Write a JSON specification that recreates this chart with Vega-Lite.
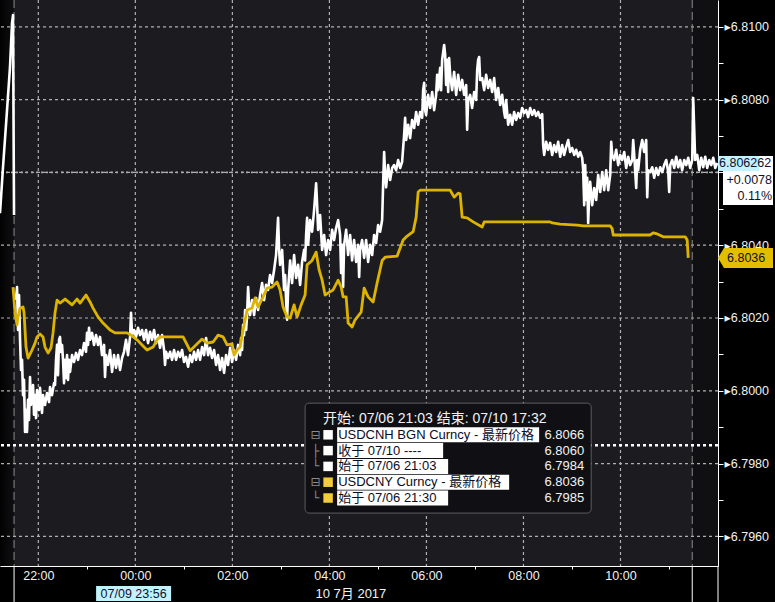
{
"$schema":"https://vega.github.io/schema/vega-lite/v6.json",
"width":718,"height":566,
"autosize":{"type":"none"},
"padding":{"left":0,"top":0,"right":57,"bottom":36},
"background":"#000000",
"config":{
 "view":{"fill":"#1c1c20","stroke":null},
 "font":"Liberation Sans, DejaVu Sans, Noto Sans CJK SC",
 "axis":{"labelFont":"Liberation Sans, DejaVu Sans, Noto Sans CJK SC","titleFont":"Liberation Sans, DejaVu Sans, Noto Sans CJK SC","labelColor":"#f2f2f2","labelFontSize":12.5,"domainColor":"#ffffff","domainWidth":1,"tickColor":"#ffffff","tickWidth":1,"grid":false}
},
"datasets":{
 "gridX":[{"t":22},{"t":24},{"t":26},{"t":28},{"t":30},{"t":32},{"t":34}],
 "gridY":[{"v":6.796},{"v":6.798},{"v":6.800},{"v":6.802},{"v":6.804},{"v":6.806},{"v":6.808},{"v":6.810}],
 "cnhA":[{"t":21.210,"v":6.80488},{"t":21.272,"v":6.80614},{"t":21.355,"v":6.80771},{"t":21.416,"v":6.80889},{"t":21.458,"v":6.81010},{"t":21.478,"v":6.81032},{"t":21.489,"v":6.80744},{"t":21.499,"v":6.80483}],
 "cnhB":[
{"t":21.540,"v":6.80249},{"t":21.561,"v":6.80285},{"t":21.582,"v":6.80167},{"t":21.602,"v":6.80263},{"t":21.623,"v":6.80140},{"t":21.643,"v":6.80057},{"t":21.664,"v":6.80085},{"t":21.685,"v":6.79988},{"t":21.705,"v":6.80030},{"t":21.726,"v":6.79887},{"t":21.746,"v":6.79947},{"t":21.767,"v":6.79887},{"t":21.788,"v":6.79975},{"t":21.808,"v":6.79920},{"t":21.829,"v":6.80038},{"t":21.849,"v":6.79961},{"t":21.891,"v":6.80016},{"t":21.911,"v":6.79934},{"t":21.932,"v":6.79988},{"t":21.953,"v":6.79925},{"t":21.973,"v":6.80002},{"t":22.014,"v":6.79947},{"t":22.035,"v":6.80008},{"t":22.076,"v":6.79939},{"t":22.097,"v":6.79988},{"t":22.138,"v":6.79961},{"t":22.179,"v":6.79994},{"t":22.221,"v":6.79969},{"t":22.241,"v":6.80010},{"t":22.282,"v":6.79988},{"t":22.324,"v":6.80021},{"t":22.344,"v":6.80016},{"t":22.365,"v":6.80085},{"t":22.386,"v":6.80126},{"t":22.406,"v":6.80043},{"t":22.427,"v":6.80140},{"t":22.447,"v":6.80148},{"t":22.468,"v":6.80107},{"t":22.489,"v":6.80126},{"t":22.509,"v":6.80085},{"t":22.530,"v":6.80021},{"t":22.551,"v":6.80085},{"t":22.571,"v":6.80035},{"t":22.592,"v":6.80098},{"t":22.612,"v":6.80030},{"t":22.633,"v":6.80085},{"t":22.654,"v":6.80052},{"t":22.695,"v":6.80098},{"t":22.736,"v":6.80079},{"t":22.777,"v":6.80104},{"t":22.819,"v":6.80085},{"t":22.860,"v":6.80112},{"t":22.901,"v":6.80098},{"t":22.942,"v":6.80131},{"t":22.983,"v":6.80107},{"t":23.004,"v":6.80159},{"t":23.025,"v":6.80126},{"t":23.045,"v":6.80173},{"t":23.066,"v":6.80140},{"t":23.107,"v":6.80159},{"t":23.148,"v":6.80126},{"t":23.190,"v":6.80153},{"t":23.231,"v":6.80126},{"t":23.272,"v":6.80148},{"t":23.313,"v":6.80098},{"t":23.355,"v":6.80126},{"t":23.375,"v":6.80038},{"t":23.396,"v":6.80098},{"t":23.437,"v":6.80071},{"t":23.478,"v":6.80112},{"t":23.520,"v":6.80052},{"t":23.561,"v":6.80098},{"t":23.602,"v":6.80063},{"t":23.643,"v":6.80098},{"t":23.684,"v":6.80057},{"t":23.726,"v":6.80090},{"t":23.767,"v":6.80107},{"t":23.808,"v":6.80140},{"t":23.849,"v":6.80098},{"t":23.891,"v":6.80148},{"t":23.911,"v":6.80214},{"t":23.932,"v":6.80153},{"t":23.973,"v":6.80167},{"t":24.014,"v":6.80148},{"t":24.056,"v":6.80173},{"t":24.097,"v":6.80153},{"t":24.138,"v":6.80167},{"t":24.179,"v":6.80140},{"t":24.221,"v":6.80167},{"t":24.262,"v":6.80131},{"t":24.303,"v":6.80162},{"t":24.344,"v":6.80140},{"t":24.386,"v":6.80167},{"t":24.427,"v":6.80131},{"t":24.468,"v":6.80153},{"t":24.509,"v":6.80118},{"t":24.551,"v":6.80153},{"t":24.592,"v":6.80112},{"t":24.612,"v":6.80071},{"t":24.633,"v":6.80107},{"t":24.674,"v":6.80090},{"t":24.716,"v":6.80107},{"t":24.757,"v":6.80085},{"t":24.798,"v":6.80112},{"t":24.839,"v":6.80085},{"t":24.880,"v":6.80107},{"t":24.922,"v":6.80093},{"t":24.963,"v":6.80112},{"t":25.004,"v":6.80079},{"t":25.045,"v":6.80093},{"t":25.087,"v":6.80066},{"t":25.128,"v":6.80098},{"t":25.169,"v":6.80079},{"t":25.210,"v":6.80107},{"t":25.252,"v":6.80085},{"t":25.293,"v":6.80112},{"t":25.334,"v":6.80085},{"t":25.375,"v":6.80120},{"t":25.417,"v":6.80098},{"t":25.458,"v":6.80145},{"t":25.499,"v":6.80098},{"t":25.540,"v":6.80118},{"t":25.582,"v":6.80090},{"t":25.623,"v":6.80112},{"t":25.664,"v":6.80071},{"t":25.705,"v":6.80098},{"t":25.747,"v":6.80057},{"t":25.788,"v":6.80090},{"t":25.829,"v":6.80049},{"t":25.870,"v":6.80098},{"t":25.911,"v":6.80071},{"t":25.953,"v":6.80118},{"t":25.994,"v":6.80079},{"t":26.035,"v":6.80112},{"t":26.076,"v":6.80085},{"t":26.118,"v":6.80126},{"t":26.159,"v":6.80098},{"t":26.179,"v":6.80145},{"t":26.200,"v":6.80112},{"t":26.221,"v":6.80181},{"t":26.241,"v":6.80153},{"t":26.262,"v":6.80222},{"t":26.283,"v":6.80167},{"t":26.303,"v":6.80208},{"t":26.324,"v":6.80285},{"t":26.344,"v":6.80236},{"t":26.365,"v":6.80208},{"t":26.406,"v":6.80249},{"t":26.448,"v":6.80208},{"t":26.489,"v":6.80255},{"t":26.530,"v":6.80222},{"t":26.571,"v":6.80263},{"t":26.613,"v":6.80296},{"t":26.654,"v":6.80249},{"t":26.695,"v":6.80291},{"t":26.736,"v":6.80277},{"t":26.777,"v":6.80318},{"t":26.819,"v":6.80296},{"t":26.860,"v":6.80332},{"t":26.901,"v":6.80373},{"t":26.942,"v":6.80475},{"t":26.963,"v":6.80387},{"t":26.984,"v":6.80346},{"t":27.025,"v":6.80387},{"t":27.066,"v":6.80277},{"t":27.087,"v":6.80318},{"t":27.107,"v":6.80249},{"t":27.128,"v":6.80195},{"t":27.149,"v":6.80277},{"t":27.190,"v":6.80358},{"t":27.231,"v":6.80296},{"t":27.272,"v":6.80373},{"t":27.314,"v":6.80310},{"t":27.355,"v":6.80346},{"t":27.396,"v":6.80291},{"t":27.437,"v":6.80354},{"t":27.478,"v":6.80387},{"t":27.499,"v":6.80358},{"t":27.520,"v":6.80428},{"t":27.540,"v":6.80475},{"t":27.561,"v":6.80401},{"t":27.602,"v":6.80469},{"t":27.643,"v":6.80437},{"t":27.685,"v":6.80497},{"t":27.726,"v":6.80570},{"t":27.747,"v":6.80510},{"t":27.767,"v":6.80442},{"t":27.808,"v":6.80483},{"t":27.850,"v":6.80387},{"t":27.891,"v":6.80428},{"t":27.932,"v":6.80373},{"t":27.973,"v":6.80414},{"t":28.015,"v":6.80387},{"t":28.056,"v":6.80442},{"t":28.097,"v":6.80414},{"t":28.138,"v":6.80447},{"t":28.180,"v":6.80469},{"t":28.221,"v":6.80428},{"t":28.241,"v":6.80324},{"t":28.262,"v":6.80401},{"t":28.283,"v":6.80285},{"t":28.303,"v":6.80401},{"t":28.345,"v":6.80442},{"t":28.386,"v":6.80373},{"t":28.427,"v":6.80428},{"t":28.468,"v":6.80358},{"t":28.509,"v":6.80414},{"t":28.551,"v":6.80354},{"t":28.592,"v":6.80401},{"t":28.613,"v":6.80313},{"t":28.633,"v":6.80387},{"t":28.674,"v":6.80414},{"t":28.716,"v":6.80365},{"t":28.757,"v":6.80414},{"t":28.798,"v":6.80354},{"t":28.839,"v":6.80401},{"t":28.881,"v":6.80373},{"t":28.922,"v":6.80428},{"t":28.963,"v":6.80406},{"t":29.004,"v":6.80455},{"t":29.045,"v":6.80437},{"t":29.087,"v":6.80469},{"t":29.107,"v":6.80565},{"t":29.128,"v":6.80656},{"t":29.149,"v":6.80593},{"t":29.169,"v":6.80559},{"t":29.211,"v":6.80620},{"t":29.252,"v":6.80579},{"t":29.293,"v":6.80612},{"t":29.334,"v":6.80620},{"t":29.375,"v":6.80606},{"t":29.417,"v":6.80634},{"t":29.458,"v":6.80612},{"t":29.499,"v":6.80629},{"t":29.540,"v":6.80703},{"t":29.561,"v":6.80750},{"t":29.582,"v":6.80689},{"t":29.623,"v":6.80731},{"t":29.664,"v":6.80694},{"t":29.705,"v":6.80744},{"t":29.747,"v":6.80722},{"t":29.788,"v":6.80766},{"t":29.829,"v":6.80731},{"t":29.870,"v":6.80766},{"t":29.912,"v":6.80750},{"t":29.932,"v":6.80826},{"t":29.953,"v":6.80846},{"t":29.973,"v":6.80771},{"t":29.994,"v":6.80758},{"t":30.035,"v":6.80813},{"t":30.077,"v":6.80777},{"t":30.118,"v":6.80821},{"t":30.159,"v":6.80771},{"t":30.200,"v":6.80813},{"t":30.221,"v":6.80868},{"t":30.241,"v":6.80826},{"t":30.283,"v":6.80887},{"t":30.303,"v":6.80826},{"t":30.324,"v":6.80909},{"t":30.365,"v":6.80950},{"t":30.386,"v":6.80923},{"t":30.406,"v":6.80840},{"t":30.427,"v":6.80909},{"t":30.448,"v":6.80821},{"t":30.468,"v":6.80914},{"t":30.489,"v":6.80868},{"t":30.530,"v":6.80826},{"t":30.571,"v":6.80876},{"t":30.613,"v":6.80813},{"t":30.654,"v":6.80868},{"t":30.695,"v":6.80826},{"t":30.736,"v":6.80854},{"t":30.777,"v":6.80813},{"t":30.819,"v":6.80840},{"t":30.839,"v":6.80717},{"t":30.860,"v":6.80799},{"t":30.901,"v":6.80813},{"t":30.942,"v":6.80777},{"t":30.984,"v":6.80821},{"t":31.025,"v":6.80799},{"t":31.046,"v":6.80881},{"t":31.066,"v":6.80909},{"t":31.087,"v":6.80917},{"t":31.107,"v":6.80854},{"t":31.149,"v":6.80859},{"t":31.190,"v":6.80826},{"t":31.231,"v":6.80868},{"t":31.272,"v":6.80832},{"t":31.314,"v":6.80854},{"t":31.355,"v":6.80821},{"t":31.396,"v":6.80859},{"t":31.437,"v":6.80799},{"t":31.479,"v":6.80832},{"t":31.520,"v":6.80785},{"t":31.561,"v":6.80813},{"t":31.602,"v":6.80766},{"t":31.623,"v":6.80750},{"t":31.643,"v":6.80799},{"t":31.685,"v":6.80731},{"t":31.726,"v":6.80758},{"t":31.767,"v":6.80731},{"t":31.808,"v":6.80766},{"t":31.850,"v":6.80744},{"t":31.891,"v":6.80763},{"t":31.932,"v":6.80750},{"t":31.973,"v":6.80777},{"t":32.015,"v":6.80763},{"t":32.056,"v":6.80771},{"t":32.097,"v":6.80752},{"t":32.138,"v":6.80777},{"t":32.180,"v":6.80758},{"t":32.221,"v":6.80771},{"t":32.262,"v":6.80755},{"t":32.303,"v":6.80766},{"t":32.345,"v":6.80750},{"t":32.386,"v":6.80760},{"t":32.406,"v":6.80675},{"t":32.427,"v":6.80648},{"t":32.468,"v":6.80684},{"t":32.509,"v":6.80662},{"t":32.551,"v":6.80681},{"t":32.592,"v":6.80648},{"t":32.633,"v":6.80675},{"t":32.674,"v":6.80656},{"t":32.716,"v":6.80684},{"t":32.757,"v":6.80643},{"t":32.798,"v":6.80675},{"t":32.839,"v":6.80648},{"t":32.881,"v":6.80670},{"t":32.922,"v":6.80689},{"t":32.963,"v":6.80656},{"t":33.004,"v":6.80667},{"t":33.046,"v":6.80648},{"t":33.087,"v":6.80662},{"t":33.128,"v":6.80643},{"t":33.169,"v":6.80656},{"t":33.211,"v":6.80640},{"t":33.231,"v":6.80606},{"t":33.252,"v":6.80510},{"t":33.272,"v":6.80620},{"t":33.293,"v":6.80524},{"t":33.314,"v":6.80585},{"t":33.334,"v":6.80461},{"t":33.355,"v":6.80538},{"t":33.375,"v":6.80574},{"t":33.417,"v":6.80510},{"t":33.458,"v":6.80557},{"t":33.499,"v":6.80524},{"t":33.540,"v":6.80593},{"t":33.582,"v":6.80546},{"t":33.623,"v":6.80601},{"t":33.664,"v":6.80551},{"t":33.705,"v":6.80606},{"t":33.747,"v":6.80551},{"t":33.788,"v":6.80593},{"t":33.809,"v":6.80684},{"t":33.829,"v":6.80648},{"t":33.870,"v":6.80634},{"t":33.912,"v":6.80662},{"t":33.953,"v":6.80620},{"t":33.994,"v":6.80648},{"t":34.035,"v":6.80634},{"t":34.077,"v":6.80656},{"t":34.118,"v":6.80612},{"t":34.159,"v":6.80643},{"t":34.200,"v":6.80620},{"t":34.242,"v":6.80634},{"t":34.262,"v":6.80689},{"t":34.283,"v":6.80648},{"t":34.324,"v":6.80557},{"t":34.345,"v":6.80634},{"t":34.365,"v":6.80606},{"t":34.406,"v":6.80662},{"t":34.448,"v":6.80689},{"t":34.489,"v":6.80656},{"t":34.530,"v":6.80689},{"t":34.551,"v":6.80532},{"t":34.571,"v":6.80606},{"t":34.613,"v":6.80601},{"t":34.654,"v":6.80614},{"t":34.695,"v":6.80585},{"t":34.736,"v":6.80612},{"t":34.778,"v":6.80593},{"t":34.819,"v":6.80614},{"t":34.860,"v":6.80601},{"t":34.901,"v":6.80620},{"t":34.943,"v":6.80634},{"t":34.984,"v":6.80601},{"t":35.004,"v":6.80546},{"t":35.025,"v":6.80620},{"t":35.066,"v":6.80634},{"t":35.108,"v":6.80612},{"t":35.149,"v":6.80643},{"t":35.190,"v":6.80614},{"t":35.231,"v":6.80634},{"t":35.272,"v":6.80606},{"t":35.314,"v":6.80634},{"t":35.355,"v":6.80620},{"t":35.396,"v":6.80640},{"t":35.437,"v":6.80612},{"t":35.479,"v":6.80634},{"t":35.499,"v":6.80804},{"t":35.520,"v":6.80717},{"t":35.540,"v":6.80634},{"t":35.582,"v":6.80648},{"t":35.623,"v":6.80606},{"t":35.664,"v":6.80640},{"t":35.705,"v":6.80614},{"t":35.747,"v":6.80643},{"t":35.788,"v":6.80612},{"t":35.829,"v":6.80634},{"t":35.871,"v":6.80620},{"t":35.912,"v":6.80640},{"t":35.953,"v":6.80612},{"t":35.994,"v":6.80626}
 ],
 "cny":[
{"t":21.478,"v":6.80285},{"t":21.520,"v":6.80214},{"t":21.561,"v":6.80181},{"t":21.582,"v":6.80203},{"t":21.623,"v":6.80227},{"t":21.685,"v":6.80230},{"t":21.705,"v":6.80216},{"t":21.746,"v":6.80120},{"t":21.788,"v":6.80090},{"t":21.870,"v":6.80112},{"t":21.932,"v":6.80131},{"t":21.973,"v":6.80148},{"t":22.035,"v":6.80156},{"t":22.097,"v":6.80148},{"t":22.138,"v":6.80120},{"t":22.200,"v":6.80104},{"t":22.262,"v":6.80118},{"t":22.303,"v":6.80159},{"t":22.344,"v":6.80214},{"t":22.386,"v":6.80249},{"t":22.447,"v":6.80241},{"t":22.551,"v":6.80252},{"t":22.695,"v":6.80236},{"t":22.798,"v":6.80252},{"t":22.860,"v":6.80241},{"t":22.983,"v":6.80263},{"t":23.066,"v":6.80244},{"t":23.128,"v":6.80227},{"t":23.231,"v":6.80203},{"t":23.334,"v":6.80186},{"t":23.478,"v":6.80167},{"t":23.581,"v":6.80159},{"t":23.829,"v":6.80159},{"t":23.932,"v":6.80151},{"t":24.035,"v":6.80140},{"t":24.138,"v":6.80126},{"t":24.241,"v":6.80112},{"t":24.365,"v":6.80120},{"t":24.447,"v":6.80140},{"t":24.509,"v":6.80148},{"t":24.984,"v":6.80148},{"t":25.128,"v":6.80110},{"t":25.375,"v":6.80142},{"t":25.478,"v":6.80131},{"t":25.602,"v":6.80134},{"t":25.705,"v":6.80153},{"t":25.808,"v":6.80148},{"t":25.891,"v":6.80126},{"t":25.994,"v":6.80129},{"t":26.035,"v":6.80098},{"t":26.097,"v":6.80112},{"t":26.159,"v":6.80120},{"t":26.221,"v":6.80167},{"t":26.303,"v":6.80222},{"t":26.406,"v":6.80227},{"t":26.468,"v":6.80255},{"t":26.530,"v":6.80230},{"t":26.633,"v":6.80258},{"t":26.715,"v":6.80282},{"t":26.818,"v":6.80285},{"t":26.921,"v":6.80299},{"t":26.984,"v":6.80277},{"t":27.045,"v":6.80230},{"t":27.128,"v":6.80203},{"t":27.190,"v":6.80200},{"t":27.272,"v":6.80236},{"t":27.334,"v":6.80203},{"t":27.417,"v":6.80236},{"t":27.499,"v":6.80263},{"t":27.540,"v":6.80346},{"t":27.643,"v":6.80358},{"t":27.726,"v":6.80381},{"t":27.788,"v":6.80332},{"t":27.850,"v":6.80304},{"t":27.911,"v":6.80263},{"t":27.973,"v":6.80269},{"t":28.076,"v":6.80277},{"t":28.180,"v":6.80304},{"t":28.242,"v":6.80285},{"t":28.283,"v":6.80258},{"t":28.345,"v":6.80258},{"t":28.386,"v":6.80186},{"t":28.468,"v":6.80175},{"t":28.530,"v":6.80195},{"t":28.654,"v":6.80216},{"t":28.716,"v":6.80282},{"t":28.798,"v":6.80258},{"t":28.901,"v":6.80244},{"t":28.983,"v":6.80296},{"t":29.087,"v":6.80358},{"t":29.149,"v":6.80367},{"t":29.396,"v":6.80370},{"t":29.520,"v":6.80414},{"t":29.602,"v":6.80425},{"t":29.726,"v":6.80437},{"t":29.788,"v":6.80477},{"t":29.829,"v":6.80546},{"t":29.870,"v":6.80551},{"t":30.489,"v":6.80551},{"t":30.571,"v":6.80532},{"t":30.654,"v":6.80543},{"t":30.695,"v":6.80541},{"t":30.736,"v":6.80477},{"t":30.839,"v":6.80475},{"t":30.963,"v":6.80464},{"t":31.149,"v":6.80450},{"t":31.190,"v":6.80464},{"t":32.551,"v":6.80464},{"t":32.592,"v":6.80461},{"t":32.757,"v":6.80458},{"t":33.107,"v":6.80455},{"t":33.231,"v":6.80453},{"t":33.788,"v":6.80453},{"t":33.829,"v":6.80445},{"t":33.850,"v":6.80428},{"t":34.613,"v":6.80428},{"t":34.674,"v":6.80434},{"t":34.757,"v":6.80431},{"t":34.880,"v":6.80423},{"t":35.334,"v":6.80423},{"t":35.375,"v":6.80414},{"t":35.396,"v":6.80365}
 ],
 "zones":[{"zone":"pre","s":21.21,"e":21.5},{"zone":"post","s":35.479,"e":36.01}],
 "seps":[{"t":21.5},{"t":35.479}],
 "legend":[
  {"row":0,"label":"开始: 07/06 21:03 结束: 07/10 17:32","value":"","tree":"","ser":"none"},
  {"row":1,"label":"USDCNH BGN Curncy - 最新价格","value":"6.8066","tree":"⊟","ser":"USDCNH"},
  {"row":2,"label":"收于 07/10 ----","value":"6.8060","tree":"├","ser":"USDCNH"},
  {"row":3,"label":"始于 07/06 21:03","value":"6.7984","tree":"└","ser":"USDCNH"},
  {"row":4,"label":"USDCNY Curncy - 最新价格","value":"6.8036","tree":"⊟","ser":"USDCNY"},
  {"row":5,"label":"始于 07/06 21:30","value":"6.7985","tree":"└","ser":"USDCNY"}
 ],
 "cnhTag":[{"v":6.80626,"last":"6.806262","chg":"+0.0078","pct":"0.11%"}],
 "cnyTag":[{"v":6.80365,"last":"6.8036"}],
 "cursor":[{"t":23.933,"label":"07/09 23:56"}]
},
"layer":[
 {"layer":[
  {"data":{"name":"zones"},"transform":[{"filter":"datum.zone=='pre'"}],
   "mark":{"type":"rect","fill":{"gradient":"linear","x1":0,"y1":0,"x2":1,"y2":0,"stops":[{"offset":0,"color":"rgba(0,0,0,0.95)"},{"offset":1,"color":"rgba(0,0,0,0.45)"}]}},
   "encoding":{"x":{"field":"s","type":"quantitative"},"x2":{"field":"e"}}},
  {"data":{"name":"zones"},"transform":[{"filter":"datum.zone=='post'"}],
   "mark":{"type":"rect","fill":"rgba(0,0,0,0.4)"},
   "encoding":{"x":{"field":"s","type":"quantitative"},"x2":{"field":"e"}}},
  {"data":{"name":"gridX"},"mark":{"type":"rule","color":"#b0b0b0","strokeDash":[3,3],"strokeWidth":1.2},
   "encoding":{"x":{"field":"t","type":"quantitative"}}},
  {"data":{"name":"gridY"},"mark":{"type":"rule","color":"#b0b0b0","strokeDash":[3,3],"strokeWidth":1.2},
   "encoding":{"y":{"field":"v","type":"quantitative"}}},
  {"data":{"name":"seps"},"mark":{"type":"rule","color":"#8a8a8a","strokeDash":[8,4],"strokeWidth":1},
   "encoding":{"x":{"field":"t","type":"quantitative"}}},
  {"data":{"name":"seps"},"mark":{"type":"rule","color":"#ffffff","strokeWidth":1},
   "encoding":{"x":{"field":"t","type":"quantitative"},"y":{"datum":6.795186},"y2":{"datum":6.7942}}},
  {"data":{"values":[{}]},"mark":{"type":"rule","color":"#ffffff","strokeWidth":1},
   "encoding":{"x":{"datum":36.01},"y":{"datum":6.795186},"y2":{"datum":6.7942}}},
  {"data":{"values":[{"v":6.8060}]},"mark":{"type":"rule","color":"#a8a8a8","strokeWidth":1.6,"strokeDash":[2,3]},
   "encoding":{"y":{"field":"v","type":"quantitative"}}},
  {"data":{"values":[{"v":6.7985}]},"mark":{"type":"rule","color":"#ffffff","strokeWidth":2.5,"strokeDash":[3,3]},
   "encoding":{"y":{"field":"v","type":"quantitative"}}},
  {"data":{"name":"cnhA"},"mark":{"type":"line","color":"#ffffff","strokeWidth":2.6,"strokeJoin":"round"},
   "encoding":{"x":{"field":"t","type":"quantitative"},"y":{"field":"v","type":"quantitative"}}},
  {"data":{"name":"cnhB"},"mark":{"type":"line","color":"#ffffff","strokeWidth":2.6,"strokeJoin":"round"},
   "encoding":{
    "x":{"field":"t","type":"quantitative","scale":{"domain":[21.21,36.01],"nice":false,"zero":false},
     "axis":{"grid":false,"values":[22,23,24,25,26,27,28,29,30,31,32,33,34,35],
      "labelExpr":"datum.value % 2 == 0 ? ((datum.value % 24 < 10 ? '0' : '') + (datum.value % 24) + ':00') : ''",
      "tickOpacity":{"condition":{"test":"datum.value % 2 == 0","value":0},"value":1},
      "tickSize":3,"labelPadding":0,"labelFlush":false,"labelOverlap":false,
      "title":"10 7月 2017","titleAnchor":"start","titleX":315,"titleY":31,"titleBaseline":"alphabetic","titleFontWeight":"normal","titleFontSize":13,"titleColor":"#f2f2f2"}},
    "y":{"field":"v","type":"quantitative","scale":{"domain":[6.795186,6.810736],"nice":false,"zero":false},
     "axis":{"grid":false,"orient":"right","values":[6.796,6.797,6.798,6.799,6.800,6.801,6.802,6.803,6.804,6.805,6.806,6.807,6.808,6.809,6.810],
      "labelExpr":"(round(datum.value*1000) % 2 == 0 && round(datum.value*1000) != 6806) ? '▸' + format(datum.value, '.4f') : ''",
      "tickSize":5,"labelPadding":1,"title":null,"labelOverlap":false,"labelFlush":false}}}},
  {"data":{"name":"cny"},"mark":{"type":"line","color":"#dcb400","strokeWidth":2.8,"strokeJoin":"round"},
   "encoding":{"x":{"field":"t","type":"quantitative"},"y":{"field":"v","type":"quantitative"}}},
  {"data":{"values":[{}]},"mark":{"type":"rect","fill":"#101014","stroke":"#5c5c5c","strokeWidth":1,"cornerRadius":4},
   "encoding":{"x":{"datum":27.499},"x2":{"datum":33.396},"y":{"datum":6.79966},"y2":{"datum":6.79664}}},
  {"data":{"name":"cnhTag"},"mark":{"type":"point","shape":"M0.1,-0.14H1.1V0.84H0.1Z","size":10000,"filled":true,"fill":"#ffffff","opacity":1,"strokeWidth":0},
   "encoding":{"x":{"datum":36.01},"y":{"field":"v","type":"quantitative"}}},
  {"data":{"name":"cnhTag"},"mark":{"type":"point","shape":"M0,-0.14H0.82V0.16H0Z","size":10000,"filled":true,"fill":"#c2f1ff","opacity":1,"strokeWidth":0},
   "encoding":{"x":{"datum":36.01},"y":{"field":"v","type":"quantitative"}}},
  {"data":{"name":"cnhTag"},"mark":{"type":"text","align":"left","baseline":"middle","dx":1,"fontSize":12.5,"color":"#10102a"},
   "encoding":{"x":{"datum":36.01},"y":{"field":"v","type":"quantitative"},"text":{"field":"last"}}},
  {"data":{"name":"cnhTag"},"mark":{"type":"text","align":"right","baseline":"middle","dx":54,"dy":17,"fontSize":12.5,"color":"#10102a"},
   "encoding":{"x":{"datum":36.01},"y":{"field":"v","type":"quantitative"},"text":{"field":"chg"}}},
  {"data":{"name":"cnhTag"},"mark":{"type":"text","align":"right","baseline":"middle","dx":54,"dy":33,"fontSize":12.5,"color":"#10102a"},
   "encoding":{"x":{"datum":36.01},"y":{"field":"v","type":"quantitative"},"text":{"field":"pct"}}},
  {"data":{"name":"cnyTag"},"mark":{"type":"point","shape":"M0,0L0.12,-0.2H1.1V0.2H0.12Z","size":10000,"filled":true,"fill":"#e3bd00","opacity":1,"strokeWidth":0},
   "encoding":{"x":{"datum":36.01},"y":{"field":"v","type":"quantitative"}}},
  {"data":{"name":"cnyTag"},"mark":{"type":"text","align":"left","baseline":"middle","dx":9,"fontSize":12.5,"color":"#10102a"},
   "encoding":{"x":{"datum":36.01},"y":{"field":"v","type":"quantitative"},"text":{"field":"last"}}},
  {"data":{"name":"cursor"},"mark":{"type":"point","shape":"M-0.72,0.4H0.78V0.7H-0.72Z","size":10000,"filled":true,"fill":"#c2f1ff","opacity":1,"strokeWidth":0},
   "encoding":{"x":{"field":"t","type":"quantitative"},"y":{"datum":6.795186}}},
  {"data":{"name":"cursor"},"mark":{"type":"text","align":"center","baseline":"middle","dx":1.5,"dy":27.5,"fontSize":12.5,"color":"#10102a"},
   "encoding":{"x":{"field":"t","type":"quantitative"},"y":{"datum":6.795186},"text":{"field":"label"}}}
 ]},
 {"data":{"name":"legend"},
  "encoding":{"y":{"field":"row","type":"ordinal","scale":{"type":"point","range":[419,498],"padding":0},"axis":null}},
  "layer":[
   {"transform":[{"filter":"datum.row > 0"}],
    "mark":{"type":"point","size":10000,"filled":true,"fill":"#ffffff","opacity":1,"strokeWidth":0},
    "encoding":{"x":{"datum":28.180},
     "shape":{"field":"row","type":"nominal","scale":{"domain":[1,2,3,4,5],"range":["M-0.02,-0.15H4.02V0.15H-0.02Z","M-0.02,-0.15H2.1V0.15H-0.02Z","M-0.02,-0.15H2.2V0.15H-0.02Z","M-0.02,-0.15H3.42V0.15H-0.02Z","M-0.02,-0.15H2.2V0.15H-0.02Z"]},"legend":null}}},
   {"transform":[{"filter":"datum.row > 0"}],
    "mark":{"type":"square","size":90,"filled":true,"opacity":1},
    "encoding":{"x":{"datum":27.973},"color":{"field":"ser","type":"nominal","scale":{"domain":["USDCNH","USDCNY"],"range":["#ffffff","#f2cc3a"]},"legend":null}}},
   {"transform":[{"filter":"datum.row > 0"}],
    "mark":{"type":"text","align":"center","baseline":"middle","font":"DejaVu Sans","fontSize":12,"color":"#8c8c8c"},
    "encoding":{"x":{"datum":27.716},"text":{"field":"tree"}}},
   {"transform":[{"filter":"datum.row > 0"}],
    "mark":{"type":"text","align":"left","baseline":"middle","fontSize":13,"color":"#0c0c24"},
    "encoding":{"x":{"datum":28.180},"text":{"field":"label"}}},
   {"transform":[{"filter":"datum.row == 0"}],
    "mark":{"type":"text","align":"left","baseline":"middle","fontSize":14,"color":"#f2f2f2"},
    "encoding":{"x":{"datum":27.870},"text":{"field":"label"}}},
   {"transform":[{"filter":"datum.row > 0"}],
    "mark":{"type":"text","align":"right","baseline":"middle","fontSize":13,"color":"#f2f2f2"},
    "encoding":{"x":{"datum":33.252},"text":{"field":"value"}}}
  ]}
],
"resolve":{"scale":{"y":"independent"}}
}
